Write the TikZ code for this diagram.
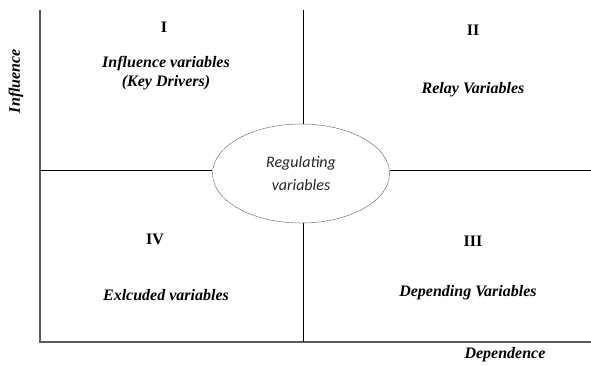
\documentclass[tikz,border=0pt]{standalone}
\usepackage{fontspec}
\setmainfont{Liberation Serif}
\newfontfamily\regfont{Carlito}
\usetikzlibrary{shapes.geometric}
\begin{document}
\begin{tikzpicture}[x=1pt,y=-1pt,
  axisline/.style={draw=black!65,line width=1.4pt},
  midline/.style={draw=black,line width=0.8pt},
  roman/.style={font=\fontsize{16}{18}\selectfont\bfseries},
  qlabel/.style={font=\fontsize{16}{19}\selectfont\bfseries\itshape,align=center},
  axlabel/.style={font=\fontsize{16}{18}\selectfont\bfseries\itshape},
  regell/.style={ellipse,draw=black!60,dash pattern=on 3pt off 0.6pt,line width=0.5pt,minimum width=177pt,minimum height=99pt,inner sep=0pt,align=center,text=black!85,font=\regfont\fontsize{16}{23}\selectfont\itshape}]
\useasboundingbox (0,0) rectangle (591,365);
\fill[white] (0,0) rectangle (591,365);
% axes
\coordinate (otop) at (40,10);
\coordinate (orig) at (40,342);
\coordinate (xend) at (591,342);
\draw[axisline] (otop) -- (orig) -- (xend);
% ellipse
\node[regell] (reg) at (301,173.5) {Regulating\\variables};
% middle lines
\coordinate (ctop) at (303,10);
\coordinate (cbot) at (303,342);
\coordinate (mleft) at (40,170);
\coordinate (mright) at (591,170);
\draw[midline] (ctop) -- (ctop |- reg.north);
\draw[midline] (cbot) -- (cbot |- reg.south);
\draw[midline] (mleft) -- (mleft -| reg.west);
\draw[midline] (mright) -- (mright -| reg.east);
% labels
\node[roman] (n1) at (164,27) {I};
\node[qlabel] (q1) at (166,73) {Influence variables\\(Key Drivers)};
\node[roman] (n2) at (473,30) {II};
\node[qlabel] (q2) at (473,90) {Relay Variables};
\node[roman] (n4) at (155,239) {IV};
\node[qlabel] (q4) at (166,295) {Exlcuded variables};
\node[roman] (n3) at (473,241) {III};
\node[qlabel] (q3) at (468,293) {Depending Variables};
\node[axlabel] (xl) at (505,355) {Dependence};
\node[axlabel,rotate=90] (yl) at (16,81) {Influence};
\end{tikzpicture}
\end{document}
